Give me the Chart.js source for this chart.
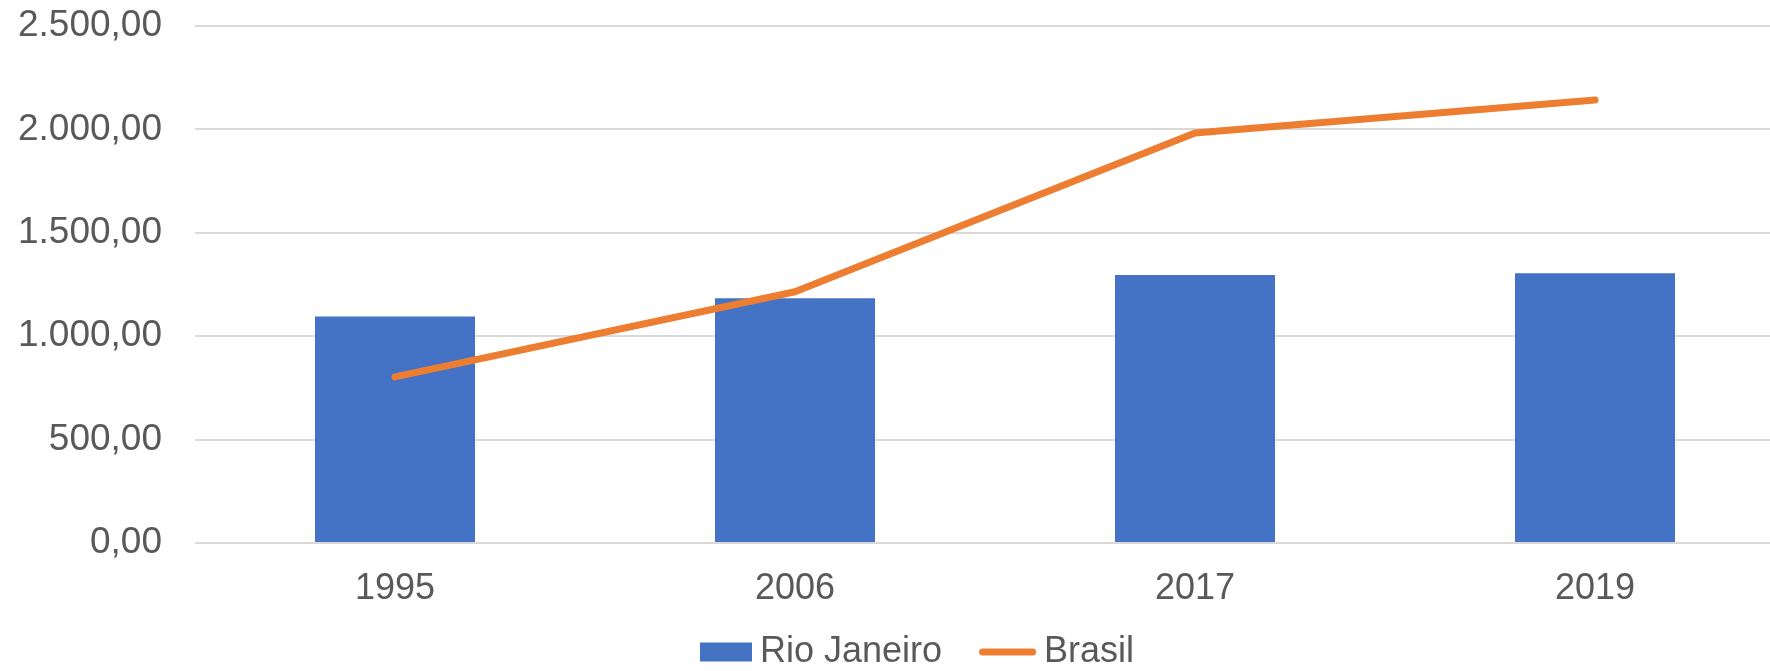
<!DOCTYPE html>
<html>
<head>
<meta charset="utf-8">
<script src="https://cdn.jsdelivr.net/npm/chart.js@4.4.0/dist/chart.umd.min.js"></script>
<style>
  html, body { margin: 0; padding: 0; background: #fff; overflow: hidden; }
  #wrap { width: 1828px; height: 671px; }
</style>
</head>
<body>
<div id="wrap"><canvas id="myChart" width="1828" height="671"></canvas></div>
<script>
// data
const years = ['1995', '2006', '2017', '2019'];
const rioJaneiro = [1095, 1183, 1296, 1304];
const brasil = [803, 1215, 1983, 2142];
const yTicks = [0, 500, 1000, 1500, 2000, 2500];

const barColor = '#4472C4';
const lineColor = '#ED7D31';
const textColor = '#595959';
const fontFamily = "'Liberation Sans', Arial, sans-serif";

// 2500 -> "2.500,00"
function fmtBR(v) {
    const parts = v.toFixed(2).split('.');
    const intPart = parts[0].replace(/\B(?=(\d{3})+(?!\d))/g, '.');
    return intPart + ',' + parts[1];
}

// legend swatches (drawn right-aligned inside a wider image so the text sits close)
function makeSwatch(kind) {
    const c = document.createElement('canvas');
    c.width = 92;
    c.height = 24;
    const g = c.getContext('2d');
    if (kind === 'bar') {
        g.fillStyle = barColor;
        g.fillRect(92 - 4 - 52, 2.5, 52, 19);
    } else {
        g.strokeStyle = lineColor;
        g.lineWidth = 7;
        g.lineCap = 'round';
        g.beginPath();
        g.moveTo(92 - 4 - 57 + 3.5, 12);
        g.lineTo(92 - 4 - 3.5, 12);
        g.stroke();
    }
    return c;
}
const barSwatch = makeSwatch('bar');
const lineSwatch = makeSwatch('line');

const data = {
    labels: years,
    datasets: [{
        type: 'bar',
        label: 'Rio Janeiro',
        data: rioJaneiro,
        backgroundColor: barColor,
        borderWidth: 0,
        barPercentage: 0.4,
        categoryPercentage: 1,
        order: 1
    }, {
        type: 'line',
        label: 'Brasil',
        data: brasil,
        borderColor: lineColor,
        backgroundColor: lineColor,
        borderWidth: 7,
        borderCapStyle: 'round',
        borderJoinStyle: 'round',
        pointRadius: 0,
        tension: 0,
        order: 0
    }]
};

const config = {
    data,
    options: {
        responsive: false,
        animation: false,
        layout: { padding: { top: 26, right: 33, left: 17, bottom: -9 } },
        plugins: {
            tooltip: { enabled: false },
            legend: {
                position: 'bottom',
                labels: {
                    usePointStyle: true,
                    pointStyleWidth: 64,
                    boxHeight: 19,
                    padding: 20,
                    color: textColor,
                    font: { family: fontFamily, size: 36 },
                    sort: (a, b) => a.datasetIndex - b.datasetIndex,
                    generateLabels: function (chart) {
                        const items = Chart.defaults.plugins.legend.labels.generateLabels(chart);
                        items.forEach(it => {
                            it.pointStyle = it.datasetIndex === 0 ? barSwatch : lineSwatch;
                            it.lineWidth = 0;
                        });
                        return items;
                    }
                }
            }
        },
        scales: {
            x: {
                grid: { display: false, drawTicks: false },
                border: { display: false },
                ticks: {
                    color: textColor,
                    font: { family: fontFamily, size: 36 },
                    padding: 24
                },
                afterFit: function (scale) { scale.height = 71; }
            },
            y: {
                min: 0,
                max: 2500,
                afterBuildTicks: function (scale) {
                    scale.ticks = yTicks.map(v => ({ value: v }));
                },
                grid: { color: '#d9d9d9', lineWidth: 2, drawTicks: false },
                border: { display: false },
                ticks: {
                    color: textColor,
                    font: { family: fontFamily, size: 37 },
                    padding: 33,
                    callback: function (value) { return fmtBR(value); }
                },
                afterFit: function (scale) {
                    scale.width = 178;
                    scale.paddingTop = 0;
                    scale.paddingBottom = 0;
                }
            }
        }
    }
};

// render
const myChart = new Chart(document.getElementById('myChart'), config);
</script>
</body>
</html>
